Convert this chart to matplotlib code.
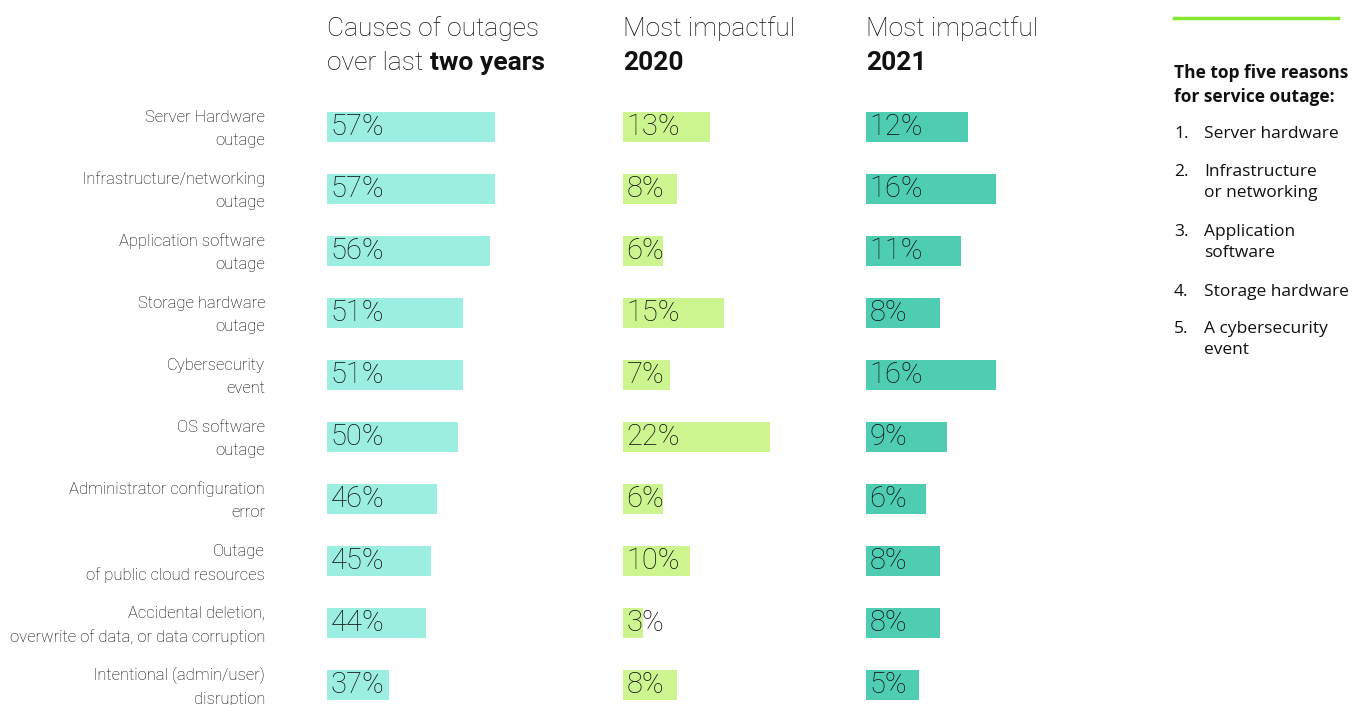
import matplotlib
matplotlib.use("Agg")
import matplotlib.pyplot as plt
import matplotlib.transforms as mtransforms

# Data

categories = [
    "Server Hardware\noutage",
    "Infrastructure/networking\noutage",
    "Application software\noutage",
    "Storage hardware\noutage",
    "Cybersecurity\nevent",
    "OS software\noutage",
    "Administrator configuration\nerror",
    "Outage\nof public cloud resources",
    "Accidental deletion,\noverwrite of data, or data corruption",
    "Intentional (admin/user)\ndisruption",
]

two_years = [57, 57, 56, 51, 51, 50, 46, 45, 44, 37]
impact_2020 = [13, 8, 6, 15, 7, 22, 6, 10, 3, 8]
impact_2021 = [12, 16, 11, 8, 16, 9, 6, 8, 8, 5]

top_five = [
    "Server hardware",
    "Infrastructure\nor networking",
    "Application\nsoftware",
    "Storage hardware",
    "A cybersecurity\nevent",
]

# Style

W, H = 1366, 705
TEXT = "#111111"
SIDE_FONT = ["Open Sans", "DejaVu Sans"]

plt.rcParams["font.family"] = ["Roboto", "DejaVu Sans"]

fig = plt.figure(figsize=(W / 100, H / 100), dpi=100)
fig.patch.set_facecolor("white")


def fx(px):
    return px / W


def fy(py):
    return 1 - py / H


# left px of axes, px per percent, axis start value, values, colour
panels = [
    (327, 5.3, 25.3, two_years, "#9beee0"),
    (623, 6.7, 0.0, impact_2020, "#ccf590"),
    (866, 7.0, -2.5, impact_2021, "#4fcdb3"),
]

top_px = 96
ymax = -0.5 + (H - top_px) / 62.0

axes = []
for left, scale, x0, values, colour in panels:
    width_px = 230
    ax = fig.add_axes([fx(left), 0, width_px / W, fy(top_px)])
    # bars run from the start of the axis to the value
    ax.barh(range(len(values)), [v - x0 for v in values], left=x0,
            height=30 / 62, color=colour)
    ax.set_xlim(x0, x0 + width_px / scale)
    ax.set_ylim(ymax, -0.5)
    for i, v in enumerate(values):
        ax.annotate(f"{v}%", xy=(x0, i), xytext=(2.5, 0),
                    textcoords="offset points", va="center", ha="left",
                    fontsize=21, fontweight="light", color=TEXT,
                    annotation_clip=False)
    for s in ax.spines.values():
        s.set_visible(False)
    ax.set_xticks([])
    ax.set_yticks([])
    ax.patch.set_alpha(0)
    axes.append(ax)

# category labels on the first panel
axes[0].set_yticks(range(len(categories)))
axes[0].set_yticklabels(categories, fontsize=12, fontweight="light",
                        color="#000000", ha="right", multialignment="right",
                        linespacing=1.65)
axes[0].tick_params(axis="y", length=0, pad=44.6)
shift = mtransforms.ScaledTranslation(0, 3.5 / 100, fig.dpi_scale_trans)
for lbl in axes[0].get_yticklabels():
    lbl.set_transform(lbl.get_transform() + shift)

# column titles
renderer = fig.canvas.get_renderer()
title_kw = dict(fontsize=19, color=TEXT, va="center", ha="left")

fig.text(fx(327), fy(29), "Causes of outages", fontweight="light", **title_kw)
t = fig.text(fx(327), fy(63), "over last ", fontweight="light", **title_kw)
bb = t.get_window_extent(renderer)
fig.text(bb.x1 / W, fy(63), "two years", fontweight="bold", **title_kw)

fig.text(fx(623), fy(29), "Most impactful", fontweight="light", **title_kw)
fig.text(fx(623), fy(63), "2020", fontweight="bold", **title_kw)
fig.text(fx(866), fy(29), "Most impactful", fontweight="light", **title_kw)
fig.text(fx(866), fy(63), "2021", fontweight="bold", **title_kw)

# right-hand panel
fig.add_artist(plt.Line2D([fx(1174), fx(1338)], [fy(18), fy(18)],
                          color="#84e62e", linewidth=2.5))
fig.text(fx(1174), fy(64), "The top five reasons\nfor service outage:",
         fontsize=12.5, fontweight="bold", color=TEXT, va="top",
         ha="left", family=SIDE_FONT, linespacing=1.45)

item_y = [126, 164, 224, 284, 321]
for n, (label, y) in enumerate(zip(top_five, item_y), start=1):
    fig.text(fx(1174), fy(y), f"{n}.", fontsize=12.5, color=TEXT,
             va="top", ha="left", family=SIDE_FONT)
    fig.text(fx(1204), fy(y), label, fontsize=12.5, color=TEXT,
             va="top", ha="left", family=SIDE_FONT, linespacing=1.45)

plt.savefig("out.png", dpi=100, facecolor="white")
